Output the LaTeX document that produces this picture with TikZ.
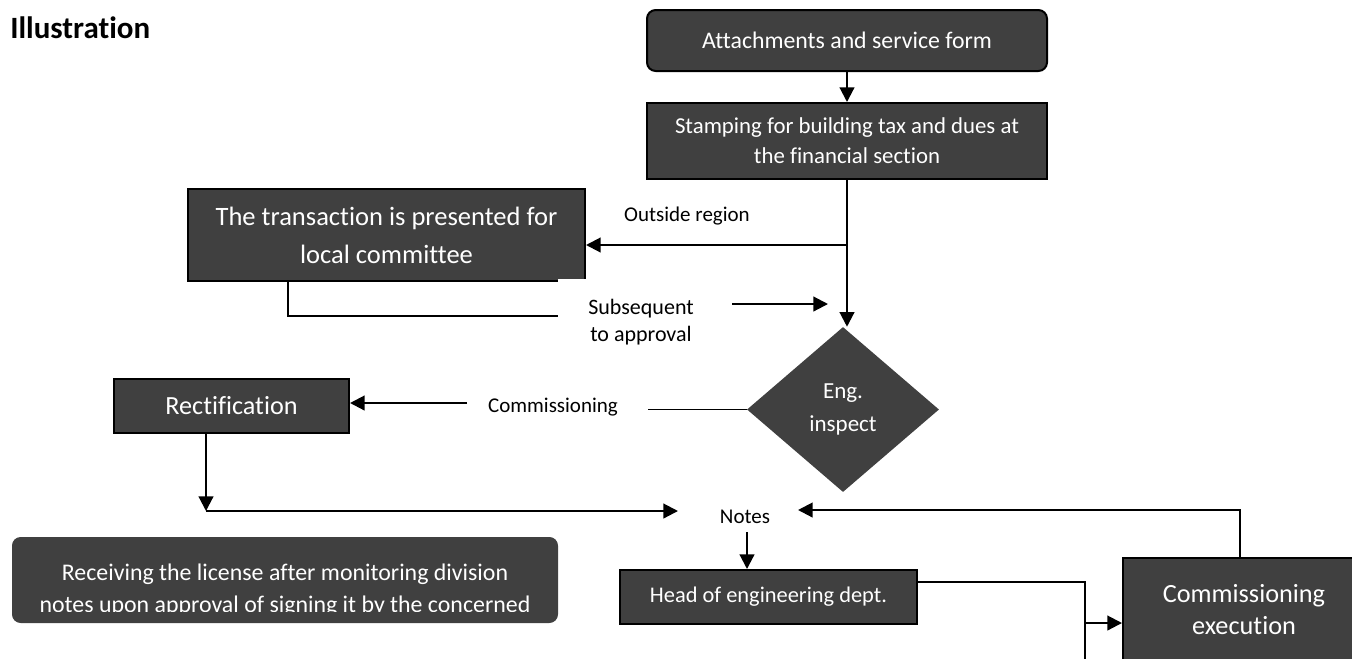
\documentclass[tikz,border=0pt]{standalone}
\usepackage{fontspec}
\setmainfont{Carlito}[Ligatures=NoCommon]
\usetikzlibrary{arrows.meta,shapes.geometric,calc}
\definecolor{boxfill}{HTML}{404040}
\newcommand{\fs}[2]{\fontsize{#1pt}{#2pt}\selectfont}
\begin{document}
\begin{tikzpicture}[x=0.75pt,y=-0.75pt,
  darkbox/.style={draw=black,line width=1.5pt,fill=boxfill,text=white,align=center,inner sep=0pt},
  roundbox/.style={darkbox,rounded corners=6.5pt},
  decision/.style={diamond,fill=boxfill,text=white,align=center,inner sep=0pt},
  conn/.style={line width=1.6pt,-{Triangle[length=11pt,width=11pt]}},
  thinline/.style={line width=1.1pt},
  lbl/.style={font=\fs{15.75}{20},inner sep=0pt}]
\useasboundingbox (0,0) rectangle (1352,658);
\clip (0,0) rectangle (1352,658);

% heading
\node[anchor=base west,inner sep=0pt,font=\bfseries\fs{23.25}{28}] (title) at (10,38) {Illustration};

% process boxes
\node[roundbox,minimum width=400*0.75pt,minimum height=61*0.75pt,font=\fs{17.85}{22}] (att) at (847,40.5) {Attachments and service form};
\node[darkbox,minimum width=400*0.75pt,minimum height=76*0.75pt,font=\fs{17.1}{22.5}] (stamp) at (847,141) {Stamping for building tax and dues at\\the financial section};
\node[darkbox,minimum width=397*0.75pt,minimum height=92*0.75pt,font=\fs{19.9}{28.5}] (trans) at (386.5,235) {The transaction is presented for\\local committee};
\node[decision,minimum width=192*0.75pt,minimum height=165*0.75pt,font=\fs{17.25}{24.75}] (dia) at (843,409.5) {Eng.\\inspect};
\node[darkbox,minimum width=235*0.75pt,minimum height=54*0.75pt,font=\fs{19.65}{24}] (rect) at (231.5,406) {Rectification};
\node[darkbox,minimum width=297*0.75pt,minimum height=54*0.75pt,font=\fs{16.8}{22}] (head) at (768.5,597) {Head of engineering dept.};
\node[darkbox,minimum width=242*0.75pt,minimum height=104*0.75pt,font=\fs{19.7}{24}] (exec) at (1244,610) {Commissioning\\execution};
\node[roundbox,draw=none,minimum width=546*0.75pt,minimum height=86*0.75pt] (recv) at (285,580) {};
\begin{scope}
  \clip (12,537) rectangle (558,611.5);
  \node[align=center,inner sep=0pt,text=white,font=\fs{17.9}{24}] (recvtext) at (285,590)
    {Receiving the license after monitoring division\\notes upon approval of signing it by the concerned};
\end{scope}

% connector labels
\node[lbl,anchor=base] (outside) at (687,221) {Outside region};
\node[lbl,anchor=base] (commlbl) at (553,412) {Commissioning};
\node[lbl,anchor=base] (notes) at (745,523) {Notes};
\node[fill=white,align=center,inner sep=0pt,minimum width=166*0.75pt,minimum height=88*0.75pt,font=\fs{16.5}{20.25}] (sub) at (641,322.5) {Subsequent\\to approval};

% junction and end points
\coordinate (orj) at (847,245);
\coordinate (tx) at (288,316);
\coordinate (sa1) at (732,304);
\coordinate (sa2) at (828,304);
\coordinate (cm1) at (648,408);
\coordinate (cm2) at (467,403);
\coordinate (rd) at (206,511);
\coordinate (nl) at (678,511);
\coordinate (nd) at (747,532);
\coordinate (hb) at (1085,582);
\coordinate (hbot) at (1085,670);
\coordinate (eb) at (1085,623);
\coordinate (et) at (1240,510);
\coordinate (nr) at (798,510);

% connectors
\draw[conn] (att.south) -- (stamp.north);
\draw[conn] (stamp.south) -- (stamp.south |- dia.north);
\draw[conn] (orj) -- (orj -| trans.east);
\draw[thinline] (trans.south -| tx) -- (tx) -- (sub.west |- tx);
\draw[conn] (sa1) -- (sa2);
\draw[thinline] (dia.west) -- (cm1 |- dia.west);
\draw[conn] (cm2) -- (cm2 -| rect.east);
\draw[conn] (rect.south -| rd) -- (rd);
\draw[conn] (rd) -- (nl);
\draw[conn] (nd) -- (nd |- head.north);
\draw[thinline] (head.east |- hb) -- (hb) -- (hbot);
\draw[conn] (eb) -- (eb -| exec.west);
\draw[conn] (exec.north -| et) -- (et) -- (nr);
\end{tikzpicture}
\end{document}
